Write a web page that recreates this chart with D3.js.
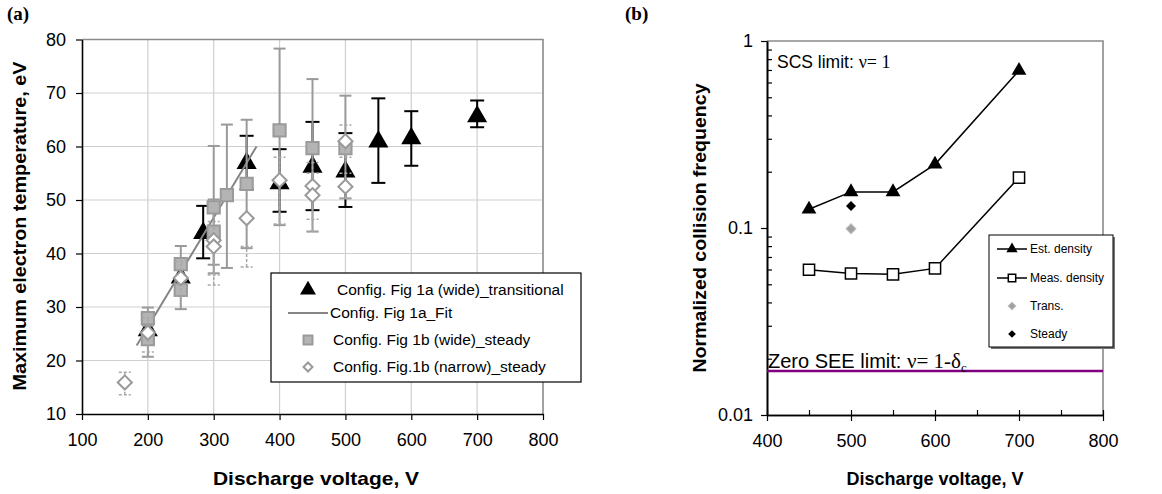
<!DOCTYPE html>
<html>
<head>
<meta charset="utf-8">
<script src="https://cdn.jsdelivr.net/npm/d3@7"></script>
<style>
  body { margin: 0; background: #fff; }
  svg text { font-family: "Liberation Sans", Arial, sans-serif; fill: #000; }
  .serif { font-family: "Liberation Serif", "Times New Roman", serif; }
</style>
</head>
<body>
<svg id="chart" width="1162" height="494"></svg>
<script>
// ---- panel (a) data: maximum electron temperature vs discharge voltage
let trans_v = [200, 250, 284, 350, 400, 450, 500, 550, 600, 700];
let trans_t = [25.6, 35.5, 43.8, 56.9, 53.1, 56.2, 55.3, 60.9, 61.5, 65.6];
let trans_lo = [null, null, 39.1, 52.0, 47.8, 48.1, 48.7, 53.2, 56.4, 63.6];
let trans_hi = [null, null, 48.9, 62.0, 59.5, 64.6, 62.5, 69.0, 66.6, 68.6];

let fit_v = [183, 365];
let fit_t = [22.8, 60.0];

let wide_v = [200, 200, 250, 250, 300, 300, 320, 350, 400, 450, 500];
let wide_t = [27.9, 24.0, 38.0, 33.2, 48.6, 44.1, 50.9, 53.0, 63.0, 59.7, 59.7];
let wide_lo = [26.5, 20.7, 35.0, 29.6, 37.9, 36.3, 37.3, 41.0, 45.3, 44.1, 50.3];
let wide_hi = [29.9, 25.5, 41.4, 35.0, 60.1, 50.1, 64.1, 65.0, 78.3, 72.6, 69.5];

let narrow_v = [165, 200, 250, 300, 300, 350, 400, 450, 450, 500, 500];
let narrow_t = [15.9, 25.2, 35.4, 42.5, 41.3, 46.6, 53.7, 52.6, 50.9, 61.0, 52.5];
let narrow_lo = [13.6, 21.6, 32.0, 36.0, 34.1, 37.5, 45.5, 46.4, 44.1, 58.0, 50.3];
let narrow_hi = [17.8, 28.0, 38.5, 46.0, 45.0, 41.3, 58.0, 57.0, 55.0, 64.0, 55.0];

let a_x_ticks = [100, 200, 300, 400, 500, 600, 700, 800];
let a_y_ticks = [10, 20, 30, 40, 50, 60, 70, 80];
let a_legend = [
  "Config. Fig 1a (wide)_transitional",
  "Config. Fig 1a_Fit",
  "Config. Fig 1b (wide)_steady",
  "Config. Fig.1b (narrow)_steady"
];

// ---- panel (b) data: normalized collision frequency
let b_v = [450, 500, 550, 600, 700];
let est_density = [0.126, 0.156, 0.156, 0.219, 0.695];
let meas_density = [0.0598, 0.0571, 0.0565, 0.0608, 0.186];
let trans_point = [{ v: 500, f: 0.099 }];
let steady_point = [{ v: 500, f: 0.131 }];
let zero_see = 0.0172;
let b_x_ticks = [400, 500, 600, 700, 800];
let b_x_minor = [400, 450, 500, 550, 600, 650, 700, 750, 800];
let b_y_ticks = [0.01, 0.1, 1];
let b_y_minor = [0.02, 0.03, 0.04, 0.05, 0.06, 0.07, 0.08, 0.09,
                 0.2, 0.3, 0.4, 0.5, 0.6, 0.7, 0.8, 0.9];
let b_legend = ["Est. density", "Meas. density", "Trans.", "Steady"];

let svg = d3.select("#chart");

// ================= panel (a) =================
let xa = d3.scaleLinear().domain([100, 800]).range([82, 543]);
let ya = d3.scaleLinear().domain([10, 80]).range([414, 39.5]);

let pa = svg.append("g");

// gridlines
pa.append("g")
  .selectAll("line.vg")
  .data(a_x_ticks.slice(1, -1))
  .join("line")
  .attr("x1", d => xa(d)).attr("x2", d => xa(d))
  .attr("y1", ya(10)).attr("y2", ya(80))
  .attr("stroke", "#cfcfcf").attr("stroke-width", 1.2);
pa.append("g")
  .selectAll("line.hg")
  .data(a_y_ticks.slice(1, -1))
  .join("line")
  .attr("x1", xa(100)).attr("x2", xa(800))
  .attr("y1", d => ya(d)).attr("y2", d => ya(d))
  .attr("stroke", "#cfcfcf").attr("stroke-width", 1.2);

// top and right frame
pa.append("path")
  .attr("d", "M" + xa(100) + "," + ya(80) + "H" + xa(800) + "V" + ya(10))
  .attr("fill", "none").attr("stroke", "#8a8a8a").attr("stroke-width", 1.6);

let axis_xa = d3.axisBottom(xa).tickValues(a_x_ticks).tickSize(6).tickSizeOuter(0).tickPadding(10);
let axis_ya = d3.axisLeft(ya).tickValues(a_y_ticks).tickSize(6).tickSizeOuter(0).tickPadding(10);

let gxa = pa.append("g")
  .attr("transform", "translate(0," + ya(10) + ")")
  .call(axis_xa);
let gya = pa.append("g")
  .attr("transform", "translate(" + xa(100) + ",0)")
  .call(axis_ya);
[gxa, gya].forEach(g => {
  g.select(".domain").attr("stroke", "#000").attr("stroke-width", 1.6);
  g.selectAll(".tick line").attr("stroke", "#000").attr("stroke-width", 1.2);
  g.selectAll(".tick text").attr("font-size", 18).attr("fill", "#000");
});
gxa.selectAll(".tick text").attr("dy", "0.9em");

function error_bars(g, v, t_lo, t_hi, color, width, cap, dash) {
  let rows = v.map((d, i) => ({ v: d, lo: t_lo[i], hi: t_hi[i] }))
    .filter(d => d.lo != null);
  let eb = g.append("g")
    .attr("stroke", color).attr("stroke-width", width)
    .attr("stroke-dasharray", dash || null);
  eb.selectAll("line.bar").data(rows).join("line")
    .attr("x1", d => xa(d.v)).attr("x2", d => xa(d.v))
    .attr("y1", d => ya(d.lo)).attr("y2", d => ya(d.hi));
  eb.selectAll("line.cap").data(rows.flatMap(d => [{ v: d.v, t: d.lo }, { v: d.v, t: d.hi }]))
    .join("line")
    .attr("x1", d => xa(d.v) - cap).attr("x2", d => xa(d.v) + cap)
    .attr("y1", d => ya(d.t)).attr("y2", d => ya(d.t));
}

let tri_a = d3.symbol().type(d3.symbolTriangle).size(175);
let sq_a = d3.symbol().type(d3.symbolSquare).size(150);
let dia_a = d3.symbol().type(d3.symbolSquare).size(100);

// transitional (black triangles)
error_bars(pa, trans_v, trans_lo, trans_hi, "#000", 2, 7);
pa.append("g").selectAll("path")
  .data(trans_v.map((d, i) => ({ v: d, t: trans_t[i] })))
  .join("path")
  .attr("d", tri_a)
  .attr("transform", d => "translate(" + xa(d.v) + "," + ya(d.t) + ")")
  .attr("fill", "#000");

// fit
let fit_line = d3.line().x(d => xa(d.v)).y(d => ya(d.t));
pa.append("path")
  .datum(fit_v.map((d, i) => ({ v: d, t: fit_t[i] })))
  .attr("d", fit_line)
  .attr("fill", "none").attr("stroke", "#858585").attr("stroke-width", 2);

// wide steady (gray squares)
error_bars(pa, wide_v, wide_lo, wide_hi, "#9a9a9a", 2, 6);
pa.append("g").selectAll("path")
  .data(wide_v.map((d, i) => ({ v: d, t: wide_t[i] })))
  .join("path")
  .attr("d", sq_a)
  .attr("transform", d => "translate(" + xa(d.v) + "," + ya(d.t) + ")")
  .attr("fill", "#b4b4b4").attr("stroke", "#9a9a9a").attr("stroke-width", 2);

// narrow steady (open diamonds)
error_bars(pa, narrow_v, narrow_lo, narrow_hi, "#a8a8a8", 1.5, 6, "3,2");
pa.append("g").selectAll("path")
  .data(narrow_v.map((d, i) => ({ v: d, t: narrow_t[i] })))
  .join("path")
  .attr("d", dia_a)
  .attr("transform", d => "translate(" + xa(d.v) + "," + ya(d.t) + ") rotate(45)")
  .attr("fill", "#fff").attr("stroke", "#9a9a9a").attr("stroke-width", 2);

// legend (a)
let lga = pa.append("g").attr("transform", "translate(271,273)");
lga.append("rect").attr("width", 310).attr("height", 109)
  .attr("fill", "#fff").attr("stroke", "#000").attr("stroke-width", 1.2);
let lga_rows = [17, 40, 67, 94];
lga.append("path").attr("d", tri_a.size(110)())
  .attr("transform", "translate(37," + lga_rows[0] + ")").attr("fill", "#000");
lga.append("line").attr("x1", 17).attr("x2", 57)
  .attr("y1", lga_rows[1]).attr("y2", lga_rows[1])
  .attr("stroke", "#858585").attr("stroke-width", 2);
lga.append("path").attr("d", sq_a.size(80)())
  .attr("transform", "translate(37," + lga_rows[2] + ")")
  .attr("fill", "#b4b4b4").attr("stroke", "#9a9a9a").attr("stroke-width", 2);
lga.append("path").attr("d", dia_a.size(40)())
  .attr("transform", "translate(37," + lga_rows[3] + ") rotate(45)")
  .attr("fill", "#fff").attr("stroke", "#9a9a9a").attr("stroke-width", 2);
let lga_x = [66, 59, 62, 62];
lga.selectAll("text.lab").data(a_legend).join("text")
  .attr("x", (d, i) => lga_x[i]).attr("y", (d, i) => lga_rows[i])
  .attr("dy", "0.35em").attr("font-size", 15.5)
  .text(d => d);

// titles (a)
svg.append("text").attr("class", "serif")
  .attr("x", 7).attr("y", 20)
  .attr("font-size", 19).attr("font-weight", "bold")
  .text("(a)");
svg.append("text")
  .attr("transform", "translate(26,226) rotate(-90)")
  .attr("text-anchor", "middle")
  .attr("font-size", 19).attr("font-weight", "bold")
  .attr("textLength", 329).attr("lengthAdjust", "spacingAndGlyphs")
  .text("Maximum electron temperature, eV");
svg.append("text")
  .attr("x", 316).attr("y", 485)
  .attr("text-anchor", "middle")
  .attr("font-size", 19).attr("font-weight", "bold")
  .attr("textLength", 206).attr("lengthAdjust", "spacingAndGlyphs")
  .text("Discharge voltage, V");

// ================= panel (b) =================
let xb = d3.scaleLinear().domain([400, 800]).range([767, 1103]);
let yb = d3.scaleLog().domain([0.01, 1]).range([415, 41]);

let pb = svg.append("g");

pb.append("path")
  .attr("d", "M" + xb(400) + "," + yb(1) + "H" + xb(800) + "V" + yb(0.01))
  .attr("fill", "none").attr("stroke", "#8a8a8a").attr("stroke-width", 1.6);

let gxb = pb.append("g")
  .attr("transform", "translate(0," + yb(0.01) + ")")
  .call(d3.axisBottom(xb).tickValues(b_x_ticks).tickSize(6).tickSizeOuter(0).tickPadding(10));
let gxb_minor = pb.append("g")
  .attr("transform", "translate(0," + yb(0.01) + ")")
  .call(d3.axisBottom(xb).tickValues(b_x_minor).tickSize(-5).tickSizeOuter(0).tickFormat(""));
let gyb = pb.append("g")
  .attr("transform", "translate(" + xb(400) + ",0)")
  .call(d3.axisLeft(yb).tickValues(b_y_ticks).tickFormat(d => String(d))
    .tickSize(6).tickSizeOuter(0).tickPadding(8));
let gyb_minor = pb.append("g")
  .attr("transform", "translate(" + xb(400) + ",0)")
  .call(d3.axisLeft(yb).tickValues(b_y_minor).tickSize(-5).tickSizeOuter(0).tickFormat(""));
[gxb, gyb, gxb_minor, gyb_minor].forEach(g => {
  g.select(".domain").attr("stroke", "#000").attr("stroke-width", 1.6);
  g.selectAll(".tick line").attr("stroke", "#000").attr("stroke-width", 1.2);
  g.selectAll(".tick text").attr("font-size", 18).attr("fill", "#000");
});
gxb.selectAll(".tick text").attr("dy", "0.9em");

// zero SEE limit line
pb.append("line")
  .attr("x1", xb(400)).attr("x2", xb(800))
  .attr("y1", yb(zero_see)).attr("y2", yb(zero_see))
  .attr("stroke", "#800080").attr("stroke-width", 2.5);

let line_b = d3.line().x(d => xb(d.v)).y(d => yb(d.f));
let est_rows = b_v.map((d, i) => ({ v: d, f: est_density[i] }));
let meas_rows = b_v.map((d, i) => ({ v: d, f: meas_density[i] }));

pb.append("path").datum(est_rows).attr("d", line_b)
  .attr("fill", "none").attr("stroke", "#000").attr("stroke-width", 1.5);
pb.append("path").datum(meas_rows).attr("d", line_b)
  .attr("fill", "none").attr("stroke", "#000").attr("stroke-width", 1.5);

let tri_b = d3.symbol().type(d3.symbolTriangle).size(95);
let sq_b = d3.symbol().type(d3.symbolSquare).size(125);
let dia_b = d3.symbol().type(d3.symbolSquare).size(50);

pb.append("g").selectAll("path").data(est_rows).join("path")
  .attr("d", tri_b)
  .attr("transform", d => "translate(" + xb(d.v) + "," + yb(d.f) + ")")
  .attr("fill", "#000");
pb.append("g").selectAll("path").data(meas_rows).join("path")
  .attr("d", sq_b)
  .attr("transform", d => "translate(" + xb(d.v) + "," + yb(d.f) + ")")
  .attr("fill", "#fff").attr("stroke", "#000").attr("stroke-width", 1.5);
pb.append("g").selectAll("path").data(trans_point).join("path")
  .attr("d", dia_b)
  .attr("transform", d => "translate(" + xb(d.v) + "," + yb(d.f) + ") rotate(45)")
  .attr("fill", "#a0a0a0").attr("stroke", "#c0c0c0").attr("stroke-width", 1);
pb.append("g").selectAll("path").data(steady_point).join("path")
  .attr("d", dia_b)
  .attr("transform", d => "translate(" + xb(d.v) + "," + yb(d.f) + ") rotate(45)")
  .attr("fill", "#000");

// annotations
let scs = pb.append("text").attr("x", 777).attr("y", 68).attr("font-size", 17.5);
scs.append("tspan").text("SCS limit: ");
scs.append("tspan").attr("class", "serif").attr("font-size", 18).text("\u03bd= 1");

let see = pb.append("text").attr("x", 768).attr("y", 368).attr("font-size", 20);
see.append("tspan").text("Zero SEE limit: ");
see.append("tspan").attr("class", "serif").attr("font-size", 21).text("\u03bd= 1-\u03b4");
see.append("tspan").attr("class", "serif").attr("font-size", 13).attr("dy", 4).text("c");

// legend (b)
let lgb = pb.append("g").attr("transform", "translate(989,235)");
lgb.append("rect").attr("x", 2).attr("y", 2).attr("width", 124).attr("height", 112)
  .attr("fill", "#777");
lgb.append("rect").attr("width", 124).attr("height", 112)
  .attr("fill", "#fff").attr("stroke", "#000").attr("stroke-width", 1);
let lgb_rows = [14, 43, 71, 99];
lgb.append("line").attr("x1", 8).attr("x2", 38).attr("y1", lgb_rows[0]).attr("y2", lgb_rows[0])
  .attr("stroke", "#000").attr("stroke-width", 1.5);
lgb.append("path").attr("d", tri_b.size(55)())
  .attr("transform", "translate(23," + lgb_rows[0] + ")").attr("fill", "#000");
lgb.append("line").attr("x1", 8).attr("x2", 38).attr("y1", lgb_rows[1]).attr("y2", lgb_rows[1])
  .attr("stroke", "#000").attr("stroke-width", 1.5);
lgb.append("path").attr("d", sq_b.size(55)())
  .attr("transform", "translate(23," + lgb_rows[1] + ")")
  .attr("fill", "#fff").attr("stroke", "#000").attr("stroke-width", 1.5);
lgb.append("path").attr("d", dia_b.size(30)())
  .attr("transform", "translate(23," + lgb_rows[2] + ") rotate(45)")
  .attr("fill", "#a0a0a0").attr("stroke", "#c0c0c0");
lgb.append("path").attr("d", dia_b.size(30)())
  .attr("transform", "translate(23," + lgb_rows[3] + ") rotate(45)")
  .attr("fill", "#000");
lgb.selectAll("text.lab").data(b_legend).join("text")
  .attr("x", 41).attr("y", (d, i) => lgb_rows[i])
  .attr("dy", "0.35em").attr("font-size", 12)
  .text(d => d);

// titles (b)
svg.append("text").attr("class", "serif")
  .attr("x", 625).attr("y", 20)
  .attr("font-size", 19).attr("font-weight", "bold")
  .text("(b)");
svg.append("text")
  .attr("transform", "translate(706,228) rotate(-90)")
  .attr("text-anchor", "middle")
  .attr("font-size", 19).attr("font-weight", "bold")
  .attr("textLength", 289).attr("lengthAdjust", "spacingAndGlyphs")
  .text("Normalized collision frequency");
svg.append("text")
  .attr("x", 935).attr("y", 485)
  .attr("text-anchor", "middle")
  .attr("font-size", 19).attr("font-weight", "bold")
  .attr("textLength", 177).attr("lengthAdjust", "spacingAndGlyphs")
  .text("Discharge voltage, V");
</script>
</body>
</html>
